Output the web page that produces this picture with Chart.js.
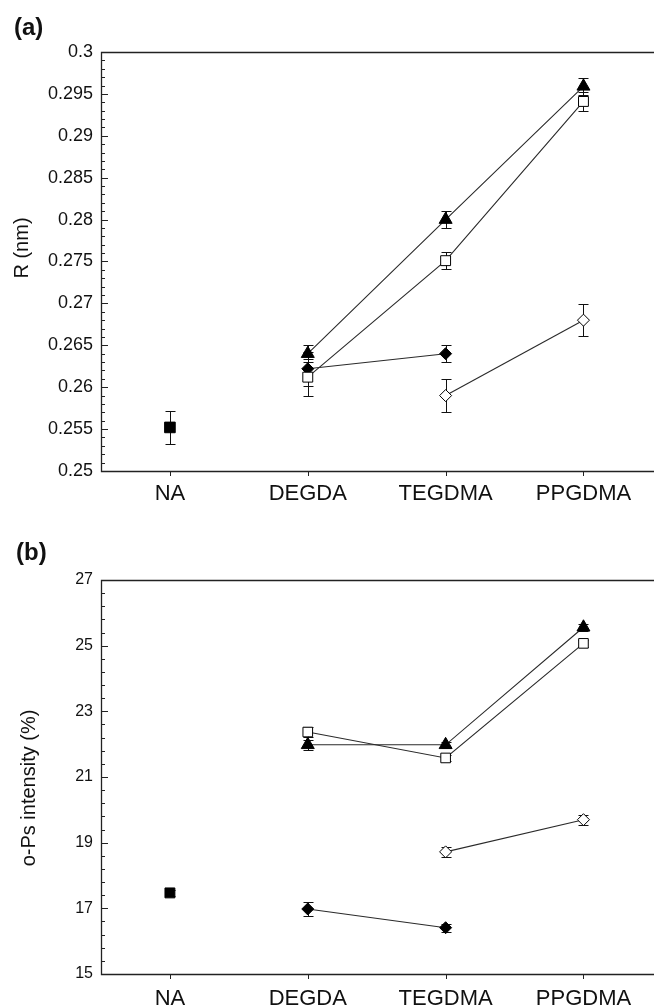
<!DOCTYPE html>
<html>
<head>
<meta charset="utf-8">
<script src="https://cdn.jsdelivr.net/npm/chart.js@4.4.0/dist/chart.umd.min.js"></script>
<style>
html, body { margin: 0; padding: 0; background: #fff; overflow: hidden; }
#wrap { position: relative; width: 654px; height: 1008px; overflow: hidden; }
canvas { position: absolute; left: 0; }
#chart-a { top: 0; }
#chart-b { top: 510px; }
</style>
</head>
<body>
<div id="wrap">
  <canvas id="chart-a" width="654" height="510"></canvas>
  <canvas id="chart-b" width="654" height="498"></canvas>
</div>
<script>
const categories = ["NA", "DEGDA", "TEGDMA", "PPGDMA"];

// (a) hole radius R, nm (null = not measured)
const radiusNA = [0.2552, null, null, null];
const radiusNAErr = [0.002, null, null, null];
const radiusTriangle = [null, 0.2640, 0.2800, 0.2959];
const radiusTriangleErr = [null, 0.001, 0.001, 0.001];
const radiusSquare = [null, 0.2612, 0.2751, 0.2941];
const radiusSquareErr = [null, 0.0022, 0.001, 0.0011];
const radiusDiamond = [null, 0.2622, 0.2640, null];
const radiusDiamondErr = [null, 0.002, 0.001, null];
const radiusOpenDiamond = [null, null, 0.2590, 0.2680];
const radiusOpenDiamondErr = [null, null, 0.002, 0.0019];

// (b) o-Ps intensity, %
const intensityNA = [17.47, null, null, null];
const intensityNAErr = [0.1, null, null, null];
const intensityTriangle = [null, 21.98, 21.98, 25.56];
const intensityTriangleErr = [null, 0.15, 0.1, 0.1];
const intensitySquare = [null, 22.37, 21.58, 25.07];
const intensitySquareErr = [null, 0.15, 0.1, 0.1];
const intensityDiamond = [null, 16.98, 16.41, null];
const intensityDiamondErr = [null, 0.22, 0.12, null];
const intensityOpenDiamond = [null, null, 18.72, 19.70];
const intensityOpenDiamondErr = [null, null, 0.15, 0.15];

const FONT = "'Liberation Sans', Arial, sans-serif";

const points = (values, errs) =>
    values.map((v, i) => (v === null ? null : { x: i + 1, y: v, err: errs[i] }))
        .filter(p => p !== null);

const series = (values, errs, style, radius, filled) => ({
    data: points(values, errs),
    borderColor: "#2a2a2a",
    borderWidth: 1.1,
    pointStyle: style,
    pointRadius: radius,
    pointBorderWidth: 1,
    pointBorderColor: "#000",
    pointBackgroundColor: filled ? "#000" : "#fff",
    showLine: true,
});

// vertical error bars with caps, under the markers
const errorBars = {
    id: "errorBars",
    beforeDatasetsDraw(chart) {
        const { ctx, scales: { x, y } } = chart;
        ctx.save();
        ctx.strokeStyle = "#111";
        ctx.lineWidth = 1;
        chart.data.datasets.forEach(ds => {
            ds.data.forEach(p => {
                if (!p.err) return;
                const px = Math.round(x.getPixelForValue(p.x)) + 0.5;
                const top = Math.round(y.getPixelForValue(p.y + p.err)) + 0.5;
                const bot = Math.round(y.getPixelForValue(p.y - p.err)) + 0.5;
                ctx.beginPath();
                ctx.moveTo(px, top); ctx.lineTo(px, bot);
                ctx.moveTo(px - 5, top); ctx.lineTo(px + 5, top);
                ctx.moveTo(px - 5, bot); ctx.lineTo(px + 5, bot);
                ctx.stroke();
            });
        });
        ctx.restore();
    }
};

// open frame (top, left, bottom), inward y ticks with minors, outward x ticks,
// panel letter and y title
const frame = {
    id: "frame",
    afterDraw(chart, args, opts) {
        const { ctx, chartArea: a, scales: { x, y } } = chart;
        ctx.save();
        ctx.strokeStyle = "#222";
        ctx.lineWidth = 1.3;
        ctx.beginPath();
        ctx.moveTo(chart.width, a.top + 0.5);
        ctx.lineTo(a.left + 0.5, a.top + 0.5);
        ctx.lineTo(a.left + 0.5, a.bottom + 0.5);
        ctx.lineTo(chart.width, a.bottom + 0.5);
        ctx.stroke();

        ctx.lineWidth = 1;
        ctx.beginPath();
        const n = Math.round((y.max - y.min) / opts.minorStep);
        const every = Math.round(opts.majorStep / opts.minorStep);
        for (let i = 0; i <= n; i++) {
            const py = Math.round(y.getPixelForValue(y.min + i * opts.minorStep)) + 0.5;
            const len = i % every === 0 ? 7 : 4;
            ctx.moveTo(a.left, py);
            ctx.lineTo(a.left + len, py);
        }
        x.ticks.forEach(t => {
            const px = Math.round(x.getPixelForValue(t.value)) + 0.5;
            ctx.moveTo(px, a.bottom);
            ctx.lineTo(px, a.bottom + 5);
        });
        ctx.stroke();

        ctx.fillStyle = "#111";
        ctx.font = "bold 24px " + FONT;
        ctx.textAlign = "left";
        ctx.textBaseline = "middle";
        ctx.fillText(opts.letter, opts.letterX, opts.letterY);

        ctx.font = "20px " + FONT;
        ctx.translate(opts.titleX, opts.titleY);
        ctx.rotate(-Math.PI / 2);
        ctx.textAlign = "center";
        ctx.fillText(opts.title, 0, 0);
        ctx.restore();
    }
};

function xScale(height, pad) {
    return {
        type: "linear",
        min: 0.5,
        max: 4.45,
        grid: { display: false, drawTicks: false },
        border: { display: false },
        afterBuildTicks: s => { s.ticks = categories.map((c, i) => ({ value: i + 1 })); },
        afterFit: s => {
            s.height = height;
            s.paddingLeft = 0;
            s.paddingRight = 0;
        },
        ticks: {
            padding: pad,
            maxRotation: 0,
            autoSkip: false,
            color: "#111",
            font: { family: FONT, size: 22 },
            callback: v => categories[v - 1],
        },
    };
}

new Chart(document.getElementById("chart-a"), {
    type: "line",
    plugins: [errorBars, frame],
    data: {
        datasets: [
            series(radiusSquare, radiusSquareErr, "rect", 7, false),
            series(radiusDiamond, radiusDiamondErr, "rectRot", 6, true),
            series(radiusOpenDiamond, radiusOpenDiamondErr, "rectRot", 6, false),
            series(radiusTriangle, radiusTriangleErr, "triangle", 7.5, true),
            series(radiusNA, radiusNAErr, "rect", 7.5, true),
        ],
    },
    options: {
        responsive: false,
        animation: false,
        events: [],
        layout: { padding: { top: 52, left: 0, right: 0, bottom: 0 } },
        plugins: {
            legend: { display: false },
            tooltip: { enabled: false },
            frame: {
                minorStep: 0.001, majorStep: 0.005,
                letter: "(a)", letterX: 14, letterY: 28,
                title: "R (nm)", titleX: 22, titleY: 248,
            },
        },
        scales: {
            x: xScale(39, 10),
            y: {
                min: 0.25,
                max: 0.3,
                grid: { display: false, drawTicks: false },
                border: { display: false },
                afterFit: s => { s.width = 101; },
                ticks: {
                    stepSize: 0.005,
                    padding: 8,
                    color: "#111",
                    font: { family: FONT, size: 18 },
                    callback: v => String(parseFloat(v.toFixed(3))),
                },
            },
        },
    },
});

new Chart(document.getElementById("chart-b"), {
    type: "line",
    plugins: [errorBars, frame],
    data: {
        datasets: [
            series(intensitySquare, intensitySquareErr, "rect", 6.8, false),
            series(intensityTriangle, intensityTriangleErr, "triangle", 7.5, true),
            series(intensityDiamond, intensityDiamondErr, "rectRot", 6, true),
            series(intensityOpenDiamond, intensityOpenDiamondErr, "rectRot", 6, false),
            series(intensityNA, intensityNAErr, "rect", 7, true),
        ],
    },
    options: {
        responsive: false,
        animation: false,
        events: [],
        layout: { padding: { top: 70, left: 0, right: 0, bottom: 0 } },
        plugins: {
            legend: { display: false },
            tooltip: { enabled: false },
            frame: {
                minorStep: 0.4, majorStep: 2,
                letter: "(b)", letterX: 16, letterY: 43,
                title: "o-Ps intensity (%)", titleX: 29, titleY: 278,
            },
        },
        scales: {
            x: xScale(34, 12),
            y: {
                min: 15,
                max: 27,
                grid: { display: false, drawTicks: false },
                border: { display: false },
                afterFit: s => { s.width = 101; },
                ticks: {
                    stepSize: 2,
                    padding: 8,
                    color: "#111",
                    font: { family: FONT, size: 16 },
                },
            },
        },
    },
});
</script>
</body>
</html>
